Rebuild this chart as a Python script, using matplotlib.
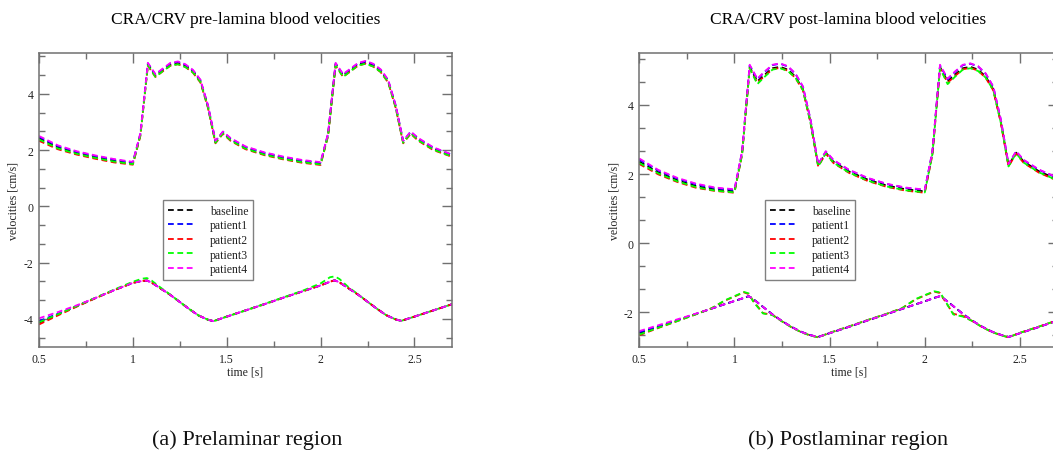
import matplotlib
matplotlib.use("Agg")
import matplotlib.pyplot as plt
from matplotlib.ticker import MultipleLocator, FormatStrFormatter

plt.rcParams['font.family'] = ['Liberation Serif', 'DejaVu Serif']
plt.rcParams['axes.unicode_minus'] = False

# ---------------- data ----------------
t_up = [0.5, 0.6, 0.7, 0.8, 0.9, 1.0, 1.04, 1.08, 1.12, 1.16, 1.2, 1.24, 1.28, 1.32, 1.36, 1.4, 1.44, 1.48, 1.52,
        1.6, 1.7, 1.8, 1.9, 2.0, 2.04, 2.08, 2.12, 2.16, 2.2, 2.24, 2.28, 2.32, 2.36, 2.4, 2.44, 2.48, 2.52, 2.6, 2.7]

pre_up_baseline = [2.42, 2.10, 1.90, 1.75, 1.62, 1.53, 2.55, 5.05, 4.65, 4.85, 5.05, 5.10, 5.00, 4.80, 4.45, 3.55, 2.28, 2.62, 2.38,
                   2.08, 1.87, 1.72, 1.60, 1.52, 2.55, 5.05, 4.65, 4.85, 5.05, 5.12, 5.02, 4.82, 4.45, 3.55, 2.28, 2.62, 2.38, 2.05, 1.80]
pre_up_patient1 = [2.47, 2.14, 1.94, 1.79, 1.66, 1.56, 2.58, 5.08, 4.68, 4.88, 5.08, 5.13, 5.03, 4.83, 4.48, 3.58, 2.32, 2.65, 2.41,
                   2.11, 1.90, 1.75, 1.63, 1.55, 2.58, 5.08, 4.68, 4.88, 5.08, 5.15, 5.05, 4.85, 4.48, 3.58, 2.32, 2.65, 2.41, 2.08, 1.83]
pre_up_patient2 = [2.33, 2.03, 1.84, 1.69, 1.56, 1.48, 2.50, 5.00, 4.60, 4.80, 5.00, 5.05, 4.95, 4.75, 4.40, 3.50, 2.24, 2.58, 2.33,
                   2.03, 1.82, 1.67, 1.55, 1.47, 2.50, 5.00, 4.60, 4.80, 5.00, 5.07, 4.97, 4.77, 4.40, 3.50, 2.24, 2.58, 2.33, 2.00, 1.76]
pre_up_patient3 = [2.38, 2.06, 1.87, 1.72, 1.59, 1.50, 2.52, 5.02, 4.60, 4.81, 5.00, 5.05, 4.95, 4.76, 4.42, 3.52, 2.26, 2.60, 2.35,
                   2.05, 1.84, 1.69, 1.57, 1.49, 2.52, 5.02, 4.60, 4.81, 5.01, 5.07, 4.97, 4.78, 4.42, 3.52, 2.26, 2.60, 2.35, 2.02, 1.77]
pre_up_patient4 = [2.50, 2.17, 1.96, 1.81, 1.68, 1.58, 2.60, 5.10, 4.70, 4.90, 5.10, 5.15, 5.05, 4.85, 4.50, 3.60, 2.33, 2.66, 2.43,
                   2.13, 1.92, 1.77, 1.65, 1.57, 2.60, 5.10, 4.70, 4.90, 5.10, 5.17, 5.07, 4.87, 4.50, 3.60, 2.33, 2.66, 2.43, 2.10, 1.84]

t_pre_low = [0.5, 0.6, 0.7, 0.8, 0.9, 1.0, 1.05, 1.075, 1.1, 1.15, 1.2, 1.25, 1.3, 1.35, 1.4, 1.43, 1.5, 1.6, 1.7, 1.8,
             1.9, 2.0, 2.05, 2.075, 2.1, 2.15, 2.2, 2.25, 2.3, 2.35, 2.4, 2.43, 2.5, 2.6, 2.7]
pre_low_baseline = [-4.14, -3.84, -3.55, -3.26, -2.98, -2.72, -2.65, -2.64, -2.71, -2.93, -3.15, -3.40, -3.65, -3.88, -4.03, -4.08,
                    -3.92, -3.70, -3.48, -3.25, -3.03, -2.81, -2.68, -2.63, -2.70, -2.92, -3.14, -3.39, -3.64, -3.87, -4.02, -4.07,
                    -3.92, -3.70, -3.48]
pre_low_patient1 = [-4.08, -3.82, -3.55, -3.26, -2.98, -2.72, -2.65, -2.64, -2.71, -2.93, -3.15, -3.40, -3.65, -3.88, -4.03, -4.08,
                    -3.92, -3.70, -3.48, -3.25, -3.03, -2.81, -2.68, -2.63, -2.70, -2.92, -3.14, -3.39, -3.64, -3.87, -4.02, -4.07,
                    -3.92, -3.70, -3.48]
pre_low_patient2 = [-4.20, -3.88, -3.57, -3.27, -2.98, -2.72, -2.65, -2.64, -2.71, -2.93, -3.15, -3.40, -3.65, -3.88, -4.03, -4.08,
                    -3.92, -3.70, -3.48, -3.25, -3.03, -2.81, -2.68, -2.63, -2.70, -2.92, -3.14, -3.39, -3.64, -3.87, -4.02, -4.07,
                    -3.92, -3.70, -3.48]
pre_low_patient3 = [-4.12, -3.84, -3.55, -3.25, -2.96, -2.68, -2.57, -2.55, -2.64, -2.90, -3.14, -3.40, -3.65, -3.88, -4.03, -4.08,
                    -3.92, -3.70, -3.47, -3.24, -3.01, -2.74, -2.52, -2.49, -2.58, -2.88, -3.13, -3.39, -3.64, -3.87, -4.02, -4.07,
                    -3.92, -3.70, -3.48]
pre_low_patient4 = [-3.98, -3.76, -3.52, -3.26, -2.98, -2.72, -2.65, -2.64, -2.71, -2.93, -3.15, -3.40, -3.65, -3.88, -4.03, -4.08,
                    -3.92, -3.70, -3.48, -3.25, -3.03, -2.81, -2.68, -2.63, -2.70, -2.92, -3.14, -3.39, -3.64, -3.87, -4.02, -4.07,
                    -3.92, -3.70, -3.48]

post_up_baseline = [2.36, 2.05, 1.82, 1.65, 1.55, 1.50, 2.60, 5.10, 4.68, 4.88, 5.06, 5.10, 5.02, 4.82, 4.45, 3.50, 2.25, 2.62, 2.36,
                    2.08, 1.84, 1.67, 1.56, 1.50, 2.60, 5.10, 4.68, 4.88, 5.06, 5.10, 5.02, 4.82, 4.45, 3.50, 2.25, 2.62, 2.36, 2.08, 1.84]
post_up_patient1 = [2.42, 2.10, 1.87, 1.70, 1.59, 1.54, 2.64, 5.14, 4.74, 4.96, 5.15, 5.19, 5.11, 4.90, 4.52, 3.56, 2.28, 2.65, 2.40,
                    2.12, 1.88, 1.71, 1.60, 1.54, 2.64, 5.14, 4.74, 4.96, 5.15, 5.19, 5.11, 4.90, 4.52, 3.56, 2.28, 2.65, 2.40, 2.12, 1.88]
post_up_patient2 = [2.29, 1.99, 1.77, 1.60, 1.51, 1.46, 2.56, 5.06, 4.64, 4.84, 5.03, 5.07, 4.99, 4.78, 4.42, 3.47, 2.22, 2.59, 2.32,
                    2.04, 1.80, 1.63, 1.52, 1.46, 2.56, 5.06, 4.64, 4.84, 5.03, 5.07, 4.99, 4.78, 4.42, 3.47, 2.22, 2.59, 2.32, 2.04, 1.80]
post_up_patient3 = [2.32, 2.02, 1.79, 1.62, 1.52, 1.47, 2.57, 5.06, 4.60, 4.82, 5.02, 5.06, 4.98, 4.79, 4.43, 3.48, 2.22, 2.60, 2.33,
                    2.05, 1.81, 1.64, 1.53, 1.47, 2.57, 5.06, 4.60, 4.82, 5.02, 5.06, 4.98, 4.79, 4.43, 3.48, 2.22, 2.60, 2.33, 2.05, 1.81]
post_up_patient4 = [2.45, 2.12, 1.89, 1.72, 1.61, 1.56, 2.66, 5.16, 4.76, 4.97, 5.16, 5.20, 5.12, 4.91, 4.53, 3.57, 2.29, 2.66, 2.41,
                    2.13, 1.89, 1.72, 1.61, 1.55, 2.66, 5.16, 4.76, 4.97, 5.16, 5.20, 5.12, 4.91, 4.53, 3.57, 2.29, 2.66, 2.41, 2.13, 1.89]

t_post_low = [0.5, 0.6, 0.7, 0.8, 0.88, 0.95, 1.0, 1.05, 1.075, 1.1, 1.15, 1.2, 1.25, 1.3, 1.35, 1.4, 1.44, 1.5, 1.6, 1.7,
              1.8, 1.88, 1.95, 2.0, 2.05, 2.08, 2.1, 2.15, 2.2, 2.25, 2.3, 2.35, 2.4, 2.44, 2.5, 2.6, 2.7]
post_low_baseline = [-2.60, -2.41, -2.23, -2.04, -1.89, -1.76, -1.67, -1.58, -1.53, -1.62, -1.84, -2.06, -2.25, -2.42, -2.56, -2.66,
                     -2.71, -2.60, -2.42, -2.23, -2.05, -1.90, -1.77, -1.68, -1.58, -1.53, -1.60, -1.82, -2.04, -2.24, -2.41,
                     -2.55, -2.65, -2.71, -2.60, -2.42, -2.23]
post_low_patient1 = [-2.57, -2.40, -2.22, -2.04, -1.89, -1.76, -1.67, -1.58, -1.53, -1.62, -1.84, -2.06, -2.25, -2.42, -2.56, -2.66,
                     -2.71, -2.60, -2.42, -2.23, -2.05, -1.90, -1.77, -1.68, -1.58, -1.53, -1.60, -1.82, -2.04, -2.24, -2.41,
                     -2.55, -2.65, -2.71, -2.60, -2.42, -2.23]
post_low_patient2 = [-2.66, -2.45, -2.25, -2.05, -1.88, -1.66, -1.54, -1.42, -1.47, -1.68, -2.02, -2.07, -2.26, -2.43, -2.57, -2.67,
                     -2.72, -2.59, -2.41, -2.22, -2.04, -1.88, -1.63, -1.51, -1.40, -1.44, -1.62, -2.04, -2.10, -2.25, -2.42,
                     -2.56, -2.66, -2.72, -2.59, -2.41, -2.22]
post_low_patient3 = [-2.64, -2.44, -2.25, -2.05, -1.88, -1.65, -1.53, -1.41, -1.45, -1.70, -2.03, -2.08, -2.26, -2.43, -2.57, -2.67,
                     -2.72, -2.59, -2.41, -2.22, -2.04, -1.88, -1.62, -1.50, -1.39, -1.42, -1.60, -2.06, -2.12, -2.25, -2.42,
                     -2.56, -2.66, -2.72, -2.59, -2.41, -2.22]
post_low_patient4 = [-2.54, -2.37, -2.20, -2.03, -1.89, -1.76, -1.67, -1.58, -1.53, -1.62, -1.84, -2.06, -2.25, -2.42, -2.56, -2.66,
                     -2.71, -2.60, -2.42, -2.23, -2.05, -1.90, -1.77, -1.68, -1.58, -1.53, -1.60, -1.82, -2.04, -2.24, -2.41,
                     -2.55, -2.65, -2.71, -2.60, -2.42, -2.23]

series_names = ["baseline", "patient1", "patient2", "patient3", "patient4"]
series_colors = ["#000000", "#0000ff", "#ff0000", "#00ff00", "#ff00ff"]

titles = ["CRA/CRV pre-lamina blood velocities", "CRA/CRV post-lamina blood velocities"]
captions = ["(a) Prelaminar region", "(b) Postlaminar region"]
xlabel = "time [s]"
ylabel = "velocities [cm/s]"

# ---------------- figure ----------------
W, H = 1053, 456
fig = plt.figure(figsize=(W / 100, H / 100), dpi=100)

def px_rect(x0, y0, x1, y1):
    return [x0 / W, 1 - y1 / H, (x1 - x0) / W, (y1 - y0) / H]

axL = fig.add_axes(px_rect(39, 54, 452, 348))
axR = fig.add_axes(px_rect(639.3, 54, 1058, 348))

spine_col = "#707070"
dash = (0, (3.2, 2.0))

def style(ax, ylim, xlim, ylab_x):
    ax.set_xlim(*xlim)
    ax.set_ylim(*ylim)
    ax.xaxis.set_major_locator(MultipleLocator(0.5))
    ax.xaxis.set_minor_locator(MultipleLocator(0.25))
    ax.xaxis.set_major_formatter(FormatStrFormatter('%g'))
    ax.yaxis.set_major_locator(MultipleLocator(2))
    ax.yaxis.set_minor_locator(MultipleLocator(2 / 3))
    ax.yaxis.set_major_formatter(FormatStrFormatter('%g'))
    ax.tick_params(which='both', direction='in', top=True, right=True, color=spine_col,
                   labelsize=8.5, labelcolor='#222222', width=1.0)
    ax.tick_params(which='major', length=7, pad=4)
    ax.tick_params(which='minor', length=4)
    for s in ax.spines.values():
        s.set_color(spine_col)
        s.set_linewidth(1.1)
    ax.set_xlabel(xlabel, fontsize=8.5, labelpad=0.5, color='#222222')
    ax.set_ylabel(ylabel, fontsize=8.5, color='#222222')
    ax.yaxis.set_label_coords(ylab_x, 0.5)

groups = [
    (axL, [(t_up, [pre_up_baseline, pre_up_patient1, pre_up_patient2, pre_up_patient3, pre_up_patient4]),
           (t_pre_low, [pre_low_baseline, pre_low_patient1, pre_low_patient2, pre_low_patient3, pre_low_patient4])]),
    (axR, [(t_up, [post_up_baseline, post_up_patient1, post_up_patient2, post_up_patient3, post_up_patient4]),
           (t_post_low, [post_low_baseline, post_low_patient1, post_low_patient2, post_low_patient3, post_low_patient4])]),
]

for ax, curves in groups:
    for gi, (tt, ser) in enumerate(curves):
        for name, col, vals in zip(series_names, series_colors, ser):
            ax.plot(tt, vals, color=col, lw=1.3, linestyle=dash,
                    label=name if gi == 0 else None)

style(axL, (-5, 5.45), (0.5, 2.7), -0.047)
style(axR, (-3, 5.5), (0.5, 2.7), -0.044)

for ax, (x0, y0) in [(axL, (163, 201)), (axR, (765, 201))]:
    leg = ax.legend(loc='upper left', bbox_to_anchor=(x0 / W, 1 - y0 / H),
                    bbox_transform=fig.transFigure, fontsize=8.5, frameon=True,
                    fancybox=False, handlelength=2.3, handletextpad=1.25,
                    labelspacing=0.22, borderpad=0.4, borderaxespad=0)
    fr = leg.get_frame()
    fr.set_edgecolor('#606060')
    fr.set_linewidth(1.0)
    for txt in leg.get_texts():
        txt.set_color('#222222')

fig.text(245.5 / W, 1 - 20 / H, titles[0], ha='center', va='center', fontsize=12.5)
fig.text(848.5 / W, 1 - 20 / H, titles[1], ha='center', va='center', fontsize=12.5)

fig.text(247 / W, 1 - 440 / H, captions[0], ha='center', va='center', fontsize=16, color='#111111')
fig.text(848 / W, 1 - 440 / H, captions[1], ha='center', va='center', fontsize=16, color='#111111')

fig.savefig("out.png", dpi=100)
